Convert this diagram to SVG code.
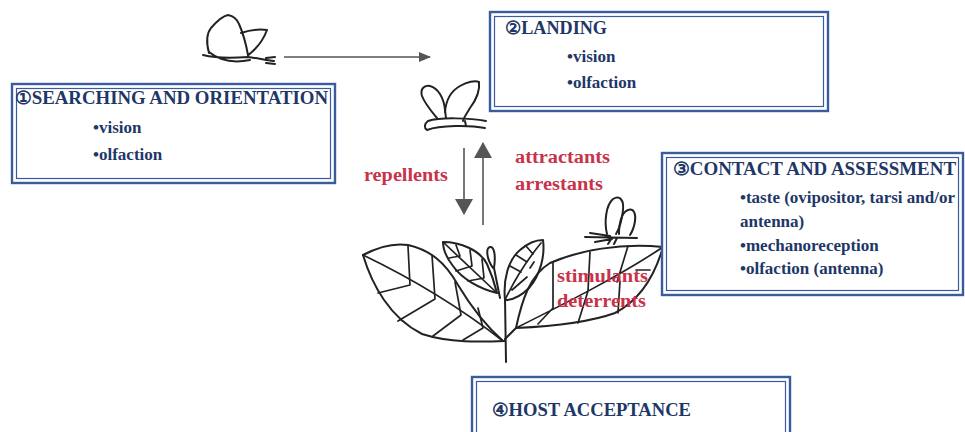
<svg xmlns="http://www.w3.org/2000/svg" width="965" height="432" viewBox="0 0 965 432">
<defs>
<style>
.bo{fill:none;stroke:#3a5c9c;stroke-width:2.4}
.bi{fill:none;stroke:#3a5c9c;stroke-width:1.2}
.bg{fill:#ffffff}
.t{font-family:"Liberation Serif","Times New Roman","DejaVu Serif",serif;font-weight:bold;font-size:18px;fill:#1e3767}
.i{font-family:"Liberation Serif","Times New Roman","DejaVu Serif",serif;font-weight:bold;font-size:17px;fill:#1e3767}
.r{font-family:"Liberation Serif","Times New Roman","DejaVu Serif",serif;font-weight:bold;font-size:18px;fill:#c8334a}
.ink{fill:none;stroke:#222;stroke-width:2;stroke-linecap:round;stroke-linejoin:round}
.vein{fill:none;stroke:#222;stroke-width:1.7;stroke-linecap:round}
.ar{fill:none;stroke:#555;stroke-width:1.6}
</style>
<marker id="ah" viewBox="0 0 12 10" refX="11" refY="5" markerWidth="12" markerHeight="10" markerUnits="userSpaceOnUse" orient="auto">
<path d="M0,0 L12,5 L0,10 Z" fill="#555"/>
</marker>
<marker id="ahb" viewBox="0 0 16 18" refX="15" refY="9" markerWidth="16" markerHeight="18" markerUnits="userSpaceOnUse" orient="auto">
<path d="M0,0 L16,9 L0,18 Z" fill="#555"/>
</marker>
</defs>
<rect width="965" height="432" fill="#ffffff"/>

<g id="plant">
<path class="ink" d="M505,298 L506,362"/>
<path class="ink" d="M363,255 C380,246 395,243 408,245 C430,250 445,262 458,285 C470,305 485,325 503,341"/>
<path class="ink" d="M363,255 C372,285 390,318 422,334 C450,343 480,342 505,341"/>
<path class="vein" d="M363,255 Q440,292 503,341"/>
<path class="vein" d="M408,246 L410,285 M378,293 L410,285 M432,255 L435,299 M398,321 L435,299 M455,282 L461,315 M433,336 L461,315 M478,308 L483,328 M463,340 L483,328"/>
<path class="ink" d="M443,242 C460,242 480,250 487,264 C492,275 495,285 497,293 C480,289 462,279 453,266 C446,257 443,249 443,242 Z"/>
<path class="vein" d="M443,242 L497,293 M456,245 L460,256 M470,250 L472,266 M482,259 L484,278 M449,258 L460,256 M456,271 L472,266 M468,281 L484,278"/>
<path class="ink" d="M493,268 C486,258 486,248 490,247 C494,246 496,255 494,268 L500,298"/>
<path class="ink" d="M505,300 C503,280 508,260 520,250 C528,243 537,240 543,240 C545,255 541,274 529,288 C521,296 512,300 505,300 Z"/>
<path class="vein" d="M505,300 Q519,270 541,243 M510,266 L521,272 M516,255 L527,262 M526,246 L533,254 M512,290 L527,277 M534,262 L530,268"/>
<path class="ink" d="M505,339 L516,328 C522,300 530,275 550,263 C580,250 620,243 663,247 C655,275 640,300 615,313 C590,322 560,326 516,328"/>
<path class="vein" d="M516,328 C560,306 620,276 663,247 M553,263 L553,308 M590,252 L588,291 M628,246 L617,282 M538,324 L553,308 M578,323 L588,291 M618,313 L620,281 M650,270 L636,270"/>
</g>

<g id="butterflies">
<path class="ink" d="M209,53 C206,42 207,33 211,28 C217,21 223,16 228,15 C233,16 237,19 239,24 C243,33 246,44 248,55"/>
<path class="ink" d="M241,33 C250,30 259,29 267,30 C264,38 260,44 255,49 C252,52 250,54 248,55"/>
<path class="ink" d="M203,55 C215,58 235,58 248,57 C257,58 265,60 274,61 M209,52 C220,61 235,63 250,60 M266,58 L275,57 M266,63 L275,64"/>
<path class="ink" d="M437,118 C432,112 425,104 422,96 C420,89 424,85 430,86 C438,88 444,98 445,110 L446,118"/>
<path class="ink" d="M445,112 C446,100 451,91 460,86 C467,82 475,80 479,82 C480,90 476,100 470,108 C467,113 464,117 463,121"/>
<path class="ink" d="M428,121 C440,117 470,118 486,121 M427,130 C440,125 470,125 485,128 M428,121 C424,124 424,128 427,130 M465,121 L466,126"/>
<path class="ink" d="M607,234 C604,222 606,205 613,199 C620,195 624,200 623,210 C622,220 619,229 616,234"/>
<path class="ink" d="M619,234 C619,222 622,212 628,210 C634,208 636,214 635,221 C634,228 632,232 630,235"/>
<path class="ink" d="M585,237 L637,238 M590,233 L610,236 M595,242 L612,239 M608,244 L612,238 M614,244 L617,238"/>
</g>

<g id="connectors">
<path class="ar" d="M284,57 L430,57" marker-end="url(#ah)"/>
<path class="ar" d="M464,148 L464,214" marker-end="url(#ahb)"/>
<path class="ar" d="M483,225 L483,143" marker-end="url(#ahb)"/>
</g>

<g id="labels">
<text class="r" x="364" y="181" textLength="84" lengthAdjust="spacingAndGlyphs">repellents</text>
<text class="r" x="515" y="163" textLength="95" lengthAdjust="spacingAndGlyphs">attractants</text>
<text class="r" x="515" y="190" textLength="88" lengthAdjust="spacingAndGlyphs">arrestants</text>
<text class="r" x="557" y="282" textLength="91" lengthAdjust="spacingAndGlyphs">stimulants</text>
<text class="r" x="557" y="307" textLength="89" lengthAdjust="spacingAndGlyphs">deterrents</text>
</g>

<g id="searching">
<rect class="bg" x="12" y="84" width="323" height="99"/>
<rect class="bo" x="12" y="84" width="323" height="99"/>
<rect class="bi" x="16.5" y="88.5" width="314" height="90"/>
<text class="t" x="15" y="104" textLength="313" lengthAdjust="spacingAndGlyphs">①SEARCHING AND ORIENTATION</text>
<text class="i" x="93" y="133">•vision</text>
<text class="i" x="93" y="160">•olfaction</text>
</g>

<g id="landing">
<rect class="bg" x="490" y="12" width="338" height="99"/>
<rect class="bo" x="490" y="12" width="338" height="99"/>
<rect class="bi" x="494.5" y="16.5" width="329" height="90"/>
<text class="t" x="505" y="34" textLength="102" lengthAdjust="spacingAndGlyphs">②LANDING</text>
<text class="i" x="567" y="62">•vision</text>
<text class="i" x="567" y="88">•olfaction</text>
</g>

<g id="contact">
<rect class="bg" x="662" y="153" width="301" height="142"/>
<rect class="bo" x="662" y="153" width="301" height="142"/>
<rect class="bi" x="666.5" y="157.5" width="292" height="133"/>
<text class="t" x="673" y="175" textLength="283" lengthAdjust="spacingAndGlyphs">③CONTACT AND ASSESSMENT</text>
<text class="i" x="740" y="203">•taste (ovipositor, tarsi and/or</text>
<text class="i" x="740" y="227">antenna)</text>
<text class="i" x="740" y="251">•mechanoreception</text>
<text class="i" x="740" y="274">•olfaction (antenna)</text>
</g>

<g id="host">
<rect class="bg" x="472" y="377" width="318" height="62"/>
<rect class="bo" x="472" y="377" width="318" height="62"/>
<rect class="bi" x="476.5" y="381.5" width="309" height="60"/>
<text class="t" x="492" y="416" textLength="199" lengthAdjust="spacingAndGlyphs">④HOST ACCEPTANCE</text>
</g>
</svg>
